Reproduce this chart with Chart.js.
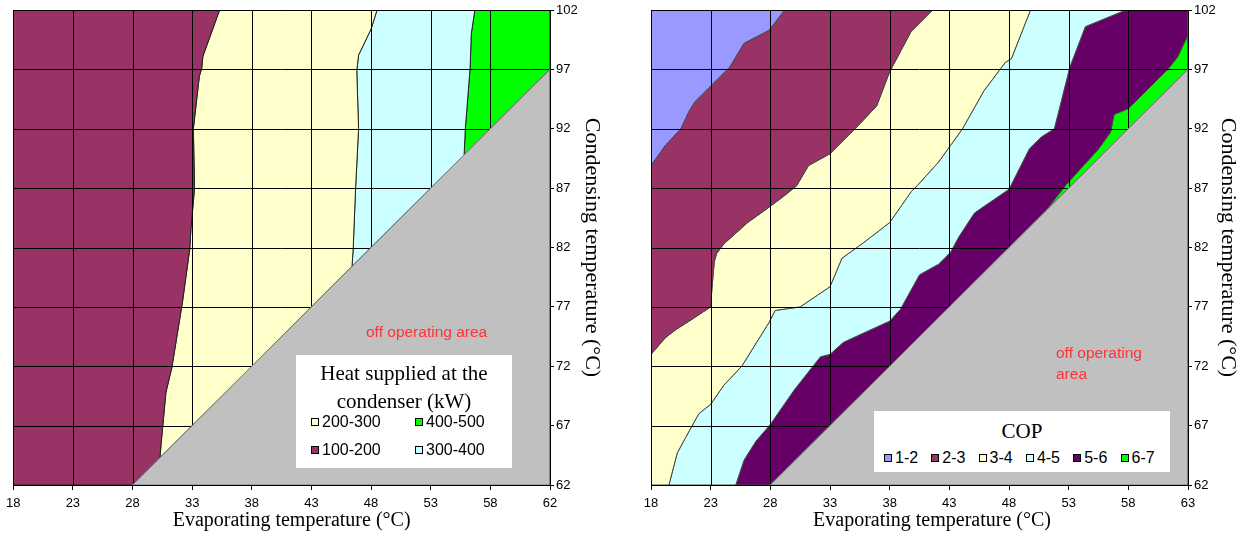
<!DOCTYPE html>
<html><head><meta charset="utf-8">
<script src="https://cdn.jsdelivr.net/npm/chart.js@4.4.1/dist/chart.umd.min.js"></script>
<style>
html,body{margin:0;padding:0;background:#fff;}
body{width:1241px;height:536px;position:relative;overflow:hidden;}
.wrap{position:absolute;top:0;height:536px;}
.note{position:absolute;color:#ff3333;font-family:'Liberation Sans',Arial,sans-serif;font-size:15.5px;line-height:21px;white-space:nowrap;}
.legend{position:absolute;background:#fff;font-family:'Liberation Sans',Arial,sans-serif;}
.ltitle{position:absolute;left:0;right:0;text-align:center;font-family:'Liberation Serif','Times New Roman',serif;font-size:21px;line-height:28px;color:#000;white-space:pre-line;}
.item{position:absolute;font-size:16px;line-height:20px;color:#000;white-space:nowrap;}
.sw{display:inline-block;width:6px;height:6px;border:1px solid #000;margin-right:3px;vertical-align:middle;position:relative;top:-1px;}
</style></head>
<body>
<div class="wrap" style="left:0;width:620px"><canvas id="c1"></canvas></div>
<div class="wrap" style="left:630px;width:611px"><canvas id="c2"></canvas></div>
<div class="note" style="left:366px;top:321px">off operating area</div>
<div class="note" style="left:1056px;top:342px;line-height:21px">off operating<br>area</div>
<div class="legend" id="leg1" style="left:296px;top:355px;width:216px;height:113px"></div>
<div class="legend" id="leg2" style="left:874px;top:411px;width:296px;height:61px"></div>
<script>
// ---------- axis ticks ----------
const xTicksHeat = [18,23,28,33,38,43,48,53,58,63];
const xLabelsHeat = ['18','23','28','33','38','43','48','53','58','62'];
const xTicksCop = [18,23,28,33,38,43,48,53,58,63];
const xLabelsCop = ['18','23','28','33','38','43','48','53','58','63'];
const yTicks = [62,67,72,77,82,87,92,97,102];
const yLabels = ['62','67','72','77','82','87','92','97','102'];

// off operating area boundary (condensing = evaporating + 34)
const offArea = [[28,62],[63,97],[63,62]];

// ---------- Heat supplied at the condenser: boundaries [evap, cond] ----------
const heatLabels = ['100-200','200-300','300-400','400-500'];
const heatColors = ['#993366','#FFFFCC','#CCFFFF','#00FF00'];
const heatB1 = [[35.3,102],[33.9,98.1],[33.8,97.1],[33.6,96.4],[33.1,92],[33.2,87],[32.9,83.6],[32.8,81.9],[32.2,77.5],[31.3,71.9],[30.8,69.8],[30.4,65.5],[30.3,64.3]];
const heatB2 = [[48.5,102],[48.0,100.4],[46.95,98.2],[46.8,96.9],[46.95,92],[46.7,87],[46.5,81.9],[46.4,80.4]];
const heatB3 = [[56.7,102],[56.4,100],[56.3,97.1],[55.9,92],[55.8,89.8]];
const heatLegendOrder = ['200-300','400-500','100-200','300-400'];

// ---------- COP: boundaries [evap, cond] ----------
const copLabels = ['1-2','2-3','3-4','4-5','5-6','6-7'];
const copColors = ['#9999FF','#993366','#FFFFCC','#CCFFFF','#660066','#00FF00'];
const copA = [[18,88.9],[19.2,90.6],[20.5,92.0],[21.2,93.5],[21.7,94.3],[23.0,95.6],[24.6,97.2],[25.8,99.2],[27.9,100.3],[29.2,102]];
const copB = [[18,73.0],[19.2,74.4],[20.1,75.1],[21.2,75.8],[23.0,77.0],[23.1,78.5],[23.3,80.8],[23.5,81.5],[24.1,82.3],[26.1,84.1],[27.9,85.4],[29.1,86.3],[30.2,87.2],[31.2,88.9],[33.0,89.9],[35.1,92.0],[36.9,93.9],[38.0,96.8],[39.8,100.2],[41.6,102]];
const copC = [[19.5,62],[20.2,64.7],[20.9,66.0],[22.0,68.0],[23.0,68.8],[24.1,70.4],[25.6,72.0],[27.9,75.7],[28.4,76.7],[30.5,77.0],[33.0,78.7],[34.0,81.1],[35.8,82.4],[38.0,84.1],[39.8,86.7],[40.3,87.2],[42.1,89.2],[43.1,90.6],[44.1,92.0],[45.9,95.2],[47.7,97.6],[48.2,97.9],[49.8,102]];
const copD = [[25.1,62],[25.8,64.1],[26.8,65.7],[28.0,67.1],[30.0,70.0],[32.2,72.8],[33.0,73.0],[34.1,74.0],[35.6,74.7],[38.0,75.8],[38.9,76.8],[40.5,79.7],[42.1,80.6],[43.1,81.6],[43.8,82.9],[45.1,84.9],[46.1,85.6],[48.0,86.9],[49.7,90.3],[50.7,91.3],[51.8,92.0],[52.3,94.0],[53.1,97.2],[54.4,100.6],[57.8,102]];
const copE = [[51.0,85.0],[52.8,87.3],[55.5,90.3],[56.5,91.7],[56.8,93.2],[58.0,93.7],[59.5,95.2],[61.3,97.0],[62.1,98.0],[63,99.9]];
const copIsland = [[35.0,69.0],[35.2,69.7],[35.6,70.0],[36.0,70.0]];

const rev = a => a.slice().reverse();

const heatRegions = [
  {label:heatLabels[0], pts:[[18,62],[18,102],...heatB1,[28,62]]},
  {label:heatLabels[1], pts:[...heatB1,...rev(heatB2)]},
  {label:heatLabels[2], pts:[...heatB2,...rev(heatB3)]},
  {label:heatLabels[3], pts:[...heatB3,[63,97],[63,102]]}
];
const copRegions = [
  {label:copLabels[0], pts:[...copA,[18,102]]},
  {label:copLabels[1], pts:[...copA,...rev(copB)]},
  {label:copLabels[2], pts:[...copB,...rev(copC),[18,62]]},
  {label:copLabels[3], pts:[...copC,...rev(copD)]},
  {label:copLabels[4], pts:[...copD,[63,102],...rev(copE),[28,62]]},
  {label:copLabels[5], pts:[...copE,[63,97]]},
  {label:copLabels[5], pts:copIsland}
];

const gridOverFill = {
  id:'gridOverFill',
  afterDatasetDraw(chart, args){
    if (args.index !== 1) return;
    const {ctx, chartArea:a, scales:{x,y}} = chart;
    ctx.save();
    ctx.strokeStyle = '#000'; ctx.lineWidth = 1;
    ctx.beginPath();
    x.ticks.forEach(t=>{const p=Math.round(x.getPixelForValue(t.value))+0.5; ctx.moveTo(p,a.top); ctx.lineTo(p,a.bottom);});
    y.ticks.forEach(t=>{const p=Math.round(y.getPixelForValue(t.value))+0.5; ctx.moveTo(a.left,p); ctx.lineTo(a.right,p);});
    ctx.stroke(); ctx.restore();
  }
};

function makeChart(id, regions, labels, colors, xTicks, xLabels, lay){
  const close = p => [...p, p[0]].map(([x,y])=>({x,y}));
  const datasets = [{label:'off operating area', data:close(offArea), backgroundColor:'#C0C0C0', borderColor:'#777', borderWidth:1, fill:'shape'}];
  regions.forEach(r=>{
    datasets.push({label:r.label, data:close(r.pts), backgroundColor:colors[labels.indexOf(r.label)], borderColor:lay.edge, borderWidth:1, fill:'shape'});
  });
  const tickFont = {family:"'Liberation Sans', Arial, sans-serif", size:13};
  const titleFont = {family:"'Liberation Serif', 'Times New Roman', serif", size:20};
  const yTitleFont = {family:"'Liberation Serif', 'Times New Roman', serif", size:22};
  return new Chart(document.getElementById(id), {
    type:'line',
    data:{datasets},
    options:{
      responsive:true, maintainAspectRatio:false, animation:false,
      layout:{padding:{left:lay.left, top:10, right:0, bottom:0}},
      elements:{point:{radius:0, hoverRadius:0}, line:{tension:0}},
      plugins:{legend:{display:false}, tooltip:{enabled:false}},
      events:[],
      scales:{
        x:{type:'linear', position:'bottom', min:18, max:63, z:1,
          afterBuildTicks:s=>{s.ticks = xTicks.map(v=>({value:v}));},
          afterFit:s=>{s.height = 51;},
          grid:{drawOnChartArea:false, drawTicks:true, tickLength:5, color:'#000', lineWidth:1},
          border:{display:true, color:'#000', width:1},
          ticks:{font:tickFont, color:'#000', padding:6, maxRotation:0, autoSkip:false, callback:(v,i)=>xLabels[i]},
          title:{display:true, text:lay.xTitle, font:titleFont, color:'#000', padding:{top:0, bottom:3}}
        },
        y:{type:'linear', position:'right', min:62, max:102, z:1,
          afterBuildTicks:s=>{s.ticks = yTicks.map(v=>({value:v}));},
          afterFit:s=>{s.width = lay.yw;},
          grid:{drawOnChartArea:false, drawTicks:true, tickLength:4, color:'#000', lineWidth:1},
          border:{display:true, color:'#000', width:1},
          ticks:{font:tickFont, color:'#000', padding:2, autoSkip:false, callback:(v,i)=>yLabels[i]},
          title:{display:true, text:'Condensing temperature (°C)', font:yTitleFont, color:'#000', padding:{top:lay.ytp, bottom:0}}
        }
      }
    },
    plugins:[gridOverFill]
  });
}

makeChart('c1', heatRegions, heatLabels, heatColors, xTicksHeat, xLabelsHeat,
  {left:12, yw:70, ytp:15, edge:'#222', xTitle:'\u00a0\u00a0\u00a0\u00a0Evaporating temperature (°C)'});
makeChart('c2', copRegions, copLabels, copColors, xTicksCop, xLabelsCop,
  {left:21, yw:53, ytp:0, edge:'#444', xTitle:'\u00a0\u00a0\u00a0\u00a0\u00a0Evaporating temperature (°C)'});

// ---------- legends (HTML) ----------
function item(label, color, left, top){
  const d = document.createElement('div');
  d.className = 'item'; d.style.left = left+'px'; d.style.top = top+'px';
  const s = document.createElement('span'); s.className = 'sw'; s.style.background = color;
  d.appendChild(s); d.appendChild(document.createTextNode(label));
  return d;
}
const leg1 = document.getElementById('leg1');
const t1 = document.createElement('div'); t1.className='ltitle'; t1.style.top='4px';
t1.textContent = 'Heat supplied at the\ncondenser (kW)'; leg1.appendChild(t1);
heatLegendOrder.forEach((lb,i)=>{
  leg1.appendChild(item(lb, heatColors[heatLabels.indexOf(lb)], 15 + (i%2)*104, 57 + Math.floor(i/2)*28));
});
const leg2 = document.getElementById('leg2');
const t2 = document.createElement('div'); t2.className='ltitle'; t2.style.top='6px';
t2.textContent = 'COP'; leg2.appendChild(t2);
copLabels.forEach((lb,i)=>{
  leg2.appendChild(item(lb, copColors[i], 10 + i*47.3, 37));
});
</script>
</body></html>
